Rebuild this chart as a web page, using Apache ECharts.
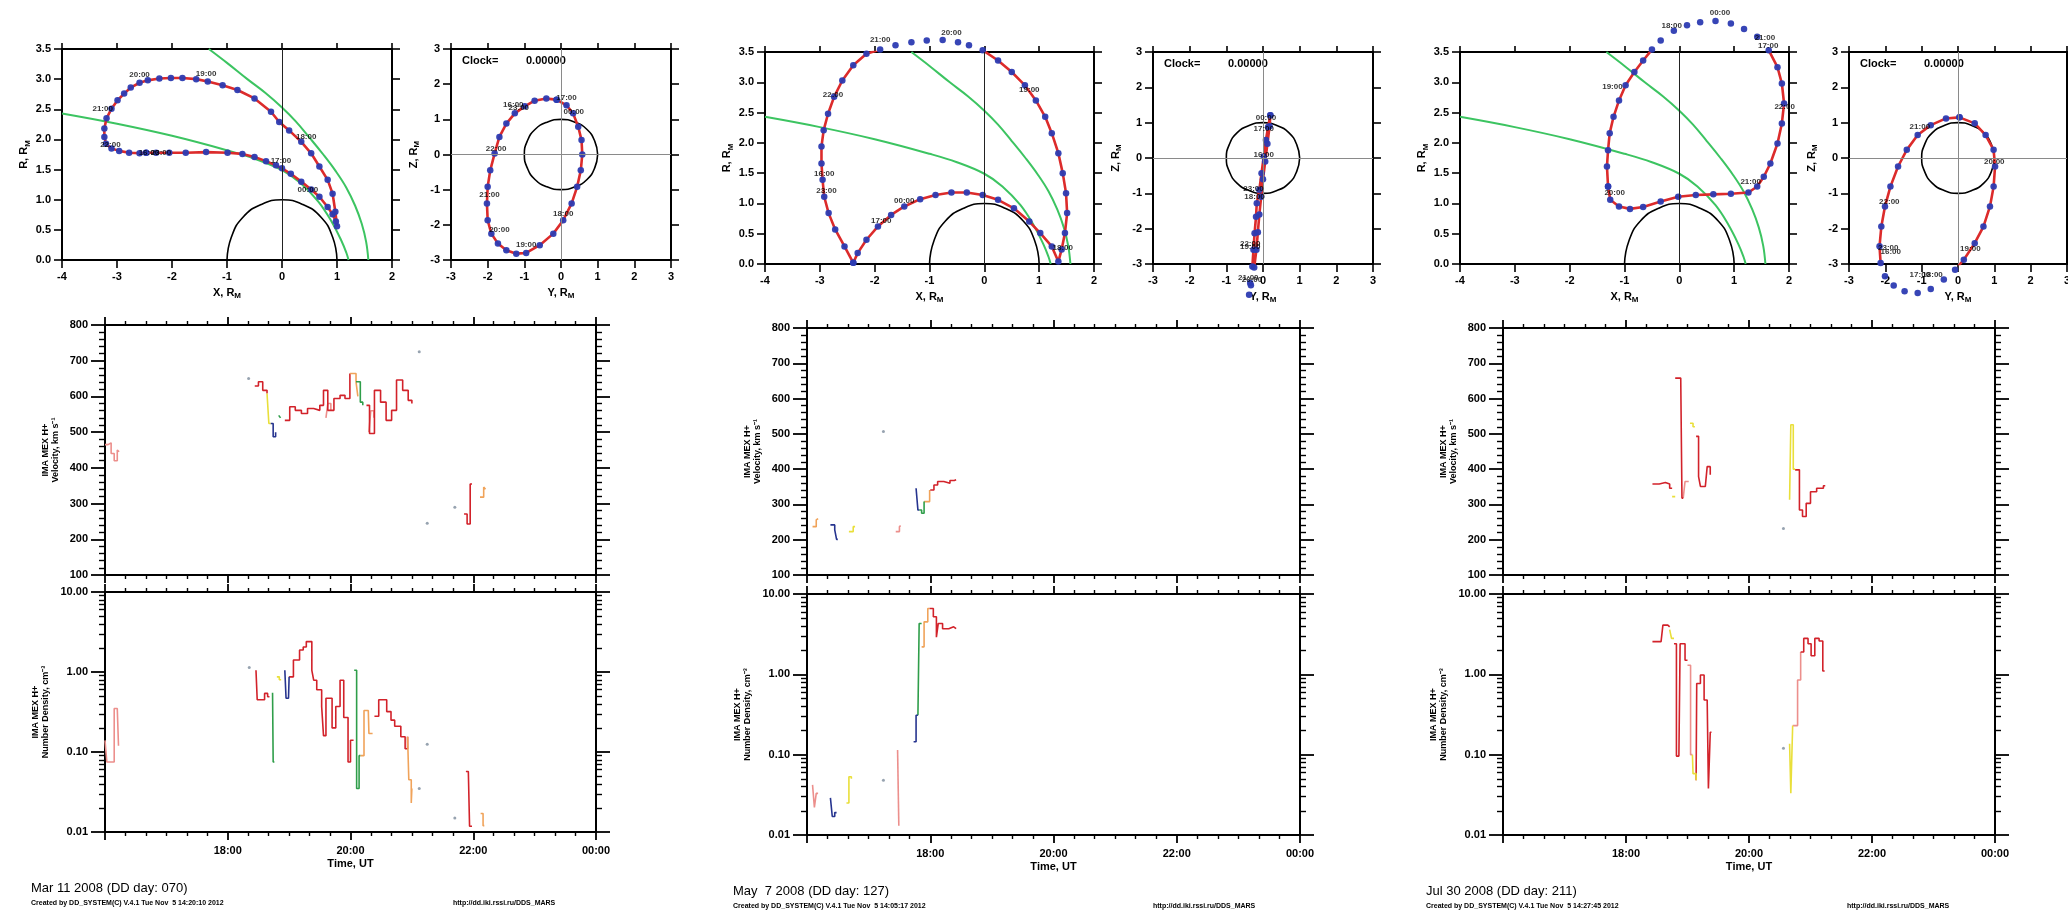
<!DOCTYPE html>
<html><head><meta charset="utf-8">
<script src="https://cdn.jsdelivr.net/npm/echarts@6/dist/echarts.min.js"></script>
<style>html,body{margin:0;padding:0;background:#fff}#c{width:2068px;height:915px}</style>
</head><body><div id="c"></div>
<script>
// ================= DATA =================
// Model boundaries (X, R in Mars radii)
const bowShock = [[-1.33,3.5],[-1.0,3.27],[-0.63,3.0],[-0.3,2.77],[0,2.53],[0.25,2.3],[0.5,2.03],[0.75,1.75],[0.98,1.47],[1.17,1.2],[1.33,0.9],[1.45,0.6],[1.53,0.3],[1.57,0]];
const mpb = [[-4,2.43],[-3,2.26],[-2,2.06],[-1,1.82],[-0.5,1.68],[0,1.49],[0.33,1.28],[0.66,0.97],[0.9,0.64],[1.08,0.32],[1.17,0.12],[1.21,0]];
const marsHalf = [[-1,0],[-0.92,0.38],[-0.71,0.71],[-0.38,0.92],[0,1],[0.38,0.92],[0.71,0.71],[0.92,0.38],[1,0]];
const marsFull = [[1,0],[0.92,0.38],[0.71,0.71],[0.38,0.92],[0,1],[-0.38,0.92],[-0.71,0.71],[-0.92,0.38],[-1,0],[-0.92,-0.38],[-0.71,-0.71],[-0.38,-0.92],[0,-1],[0.38,-0.92],[0.71,-0.71],[0.92,-0.38],[1,0]];
const timeTickLabels = ['18:00','20:00','22:00','00:00'];

// Panel 1 (Mar 11 2008)
const p1Xr = [[-2.47,1.78],[-2.29,1.78],[-2.05,1.78],[-1.75,1.78],[-1.38,1.79],[-0.99,1.78],[-0.72,1.76],[-0.50,1.71],[-0.29,1.64],[-0.11,1.57],[0.00,1.52],[0.16,1.43],[0.35,1.30],[0.53,1.17],[0.68,1.05],[0.83,0.88],[0.92,0.76],[0.98,0.64],[1.00,0.56],[0.97,0.80],[0.92,1.10],[0.83,1.33],[0.68,1.55],[0.53,1.77],[0.35,1.96],[0.13,2.15],[-0.05,2.29],[-0.20,2.46],[-0.50,2.68],[-0.81,2.82],[-1.08,2.90],[-1.35,2.96],[-1.56,3.00],[-1.81,3.02],[-2.02,3.02],[-2.23,3.01],[-2.44,2.98],[-2.59,2.94],[-2.75,2.86],[-2.87,2.76],[-2.99,2.65],[-3.10,2.51],[-3.19,2.35],[-3.23,2.18],[-3.23,2.04],[-3.20,1.93],[-3.10,1.85],[-2.96,1.81],[-2.78,1.78],[-2.59,1.77],[-2.47,1.78]];
const p1XrLabels = [[-2.59,3.07,'20:00'],[-1.38,3.09,'19:00'],[-3.26,2.51,'21:00'],[-3.12,1.91,'22:00'],[-2.42,1.77,'16:00'],[-2.2,1.77,'23:00'],[-0.02,1.65,'17:00'],[0.44,2.04,'18:00'],[0.47,1.17,'00:00']];
const p1Yz = [[-0.12,1.56],[0.15,1.40],[0.33,1.17],[0.47,0.79],[0.56,0.41],[0.58,0.00],[0.54,-0.45],[0.44,-0.92],[0.29,-1.39],[0.06,-1.87],[-0.21,-2.25],[-0.58,-2.58],[-0.95,-2.80],[-1.22,-2.82],[-1.49,-2.72],[-1.72,-2.53],[-1.90,-2.25],[-2.00,-1.87],[-2.02,-1.39],[-2.00,-0.92],[-1.93,-0.45],[-1.81,0.03],[-1.68,0.50],[-1.49,0.88],[-1.26,1.17],[-0.99,1.37],[-0.72,1.53],[-0.40,1.59],[-0.12,1.56]];
const p1YzLabels = [[0.15,1.62,'17:00'],[-1.30,1.40,'16:00'],[-1.15,1.32,'23:00'],[0.35,1.22,'00:00'],[-1.77,0.15,'22:00'],[-1.95,-1.16,'21:00'],[-1.68,-2.15,'20:00'],[-0.95,-2.58,'19:00'],[0.06,-1.68,'18:00']];

const p1VelRed = [
  [[18.44,629],[18.5,641],[18.57,617],[18.64,608]],
  [[18.93,533],[19.01,571],[19.1,561],[19.2,552],[19.3,566],[19.4,561],[19.5,575],[19.56,617],[19.63,561],[19.73,594],[19.83,603],[19.91,594],[19.99,664]],
  [[20.26,575],[20.31,496],[20.39,617],[20.49,584],[20.58,533],[20.67,561],[20.75,646],[20.85,617],[20.94,589],[21.0,580]],
  [[21.85,271],[21.9,243],[21.95,355],[21.98,355]]];
const p1VelPink = [
  [[16.0,465],[16.05,470],[16.1,440],[16.15,420],[16.2,450],[16.23,445]],
  [[19.6,540],[19.63,580],[19.68,560]],
  [[20.3,500],[20.33,560],[20.38,540]]];
const p1VelOrange = [[[19.99,664],[20.09,641],[20.12,600]],[[22.11,318],[22.17,346],[22.2,340]]];
const p1VelYellow = [[[18.64,608],[18.67,524],[18.7,524]]];
const p1VelGreen = [[[20.09,641],[20.16,584],[20.2,575]],[[18.83,547],[18.86,540]]];
const p1VelBlue = [[[18.7,524],[18.74,487],[18.78,500]]];
const p1VelDots = [[18.34,650],[21.12,725],[21.25,245],[21.7,290]];

const p1DenPink = [[[16.0,0.14],[16.03,0.075],[16.1,0.075],[16.15,0.35],[16.2,0.35],[16.22,0.12]]];
const p1DenRed = [
  [[18.46,1.05],[18.48,0.45],[18.55,0.45],[18.6,0.54],[18.65,0.49],[18.68,0.49]],
  [[19.0,0.87],[19.07,1.41],[19.17,1.88],[19.23,2.05],[19.28,2.4],[19.33,2.4],[19.37,1.05],[19.4,0.79],[19.45,0.6],[19.53,0.37],[19.56,0.16],[19.6,0.47],[19.7,0.2],[19.76,0.37],[19.83,0.79],[19.89,0.27],[19.96,0.075],[20.0,0.14],[20.05,0.14]],
  [[20.39,0.28],[20.46,0.45],[20.52,0.45],[20.59,0.32],[20.66,0.25],[20.72,0.21],[20.82,0.155],[20.89,0.11],[20.93,0.155]],
  [[21.88,0.057],[21.92,0.057],[21.94,0.0118],[21.98,0.0118]]];
const p1DenGreen = [[[18.73,0.55],[18.74,0.075],[18.76,0.075]],[[20.06,1.05],[20.1,0.035],[20.14,0.09],[20.16,0.09]]];
const p1DenYellow = [[[18.8,0.87],[18.84,0.8],[18.87,0.8]]];
const p1DenBlue = [[[18.93,1.05],[18.95,0.47],[18.99,0.47],[19.0,0.87]]];
const p1DenOrange = [[[20.16,0.09],[20.22,0.33],[20.29,0.33],[20.3,0.17],[20.36,0.17]],[[20.93,0.155],[20.95,0.045],[20.99,0.023],[21.0,0.035]],[[22.12,0.017],[22.16,0.012],[22.18,0.012]]];
const p1DenDots = [[18.35,1.14],[21.12,0.035],[21.25,0.125],[21.7,0.015]];

// Panel 2 (May 7 2008)
const p2Xr = [[-2.39,0.02],[-2.55,0.29],[-2.72,0.57],[-2.84,0.84],[-2.92,1.11],[-2.95,1.39],[-2.97,1.66],[-2.97,1.94],[-2.93,2.21],[-2.85,2.48],[-2.74,2.76],[-2.59,3.03],[-2.39,3.28],[-2.15,3.47],[-1.90,3.54],[-1.62,3.61],[-1.33,3.66],[-1.05,3.69],[-0.76,3.70],[-0.48,3.66],[-0.28,3.61],[-0.03,3.53],[0.25,3.36],[0.50,3.17],[0.74,2.95],[0.94,2.70],[1.11,2.43],[1.23,2.16],[1.35,1.83],[1.43,1.50],[1.49,1.17],[1.51,0.84],[1.47,0.51],[1.41,0.24],[1.35,0.04],[1.23,0.29],[1.02,0.51],[0.82,0.70],[0.54,0.92],[0.25,1.06],[-0.03,1.14],[-0.32,1.18],[-0.60,1.18],[-0.89,1.14],[-1.17,1.07],[-1.46,0.95],[-1.70,0.81],[-1.94,0.62],[-2.15,0.40],[-2.31,0.18],[-2.39,0.02]];
const p2XrLabels = [[-0.60,3.82,'20:00'],[-1.90,3.70,'21:00'],[-2.76,2.79,'22:00'],[-2.92,1.49,'16:00'],[-2.88,1.21,'23:00'],[-1.46,1.05,'00:00'],[-1.88,0.72,'17:00'],[0.82,2.87,'19:00'],[1.43,0.26,'18:00']];
const p2Yz = [[0.20,1.21],[0.14,0.88],[0.08,0.51],[0.02,0.04],[-0.04,-0.43],[-0.10,-0.90],[-0.17,-1.28],[-0.19,-1.66],[-0.23,-2.13],[-0.26,-2.60],[-0.29,-3.07],[-0.35,-3.54],[-0.38,-3.87],[-0.33,-3.6],[-0.24,-3.1],[-0.18,-2.6],[-0.14,-2.1],[-0.10,-1.6],[-0.05,-1.1],[0.0,-0.6],[0.06,-0.1],[0.12,0.4],[0.18,0.9],[0.20,1.21]];
const p2YzLabels = [[0.08,1.15,'00:00'],[0.02,0.84,'17:00'],[0.02,0.08,'16:00'],[-0.26,-0.86,'23:00'],[-0.23,-1.09,'18:00'],[-0.35,-2.42,'22:00'],[-0.35,-2.52,'19:00'],[-0.40,-3.40,'21:00'],[-0.30,-3.45,'20:00']];

const p2VelOrange = [[[16.09,237],[16.15,256],[16.18,260]],[[17.9,308],[17.99,341],[18.0,341]]];
const p2VelBlue = [[[16.38,242],[16.45,228],[16.48,201],[16.5,201]],[[17.77,346],[17.8,284],[17.82,284]]];
const p2VelYellow = [[[16.68,223],[16.75,237],[16.78,237]]];
const p2VelPink = [[[17.44,223],[17.5,237],[17.52,240]]];
const p2VelGreen = [[[17.82,284],[17.86,275],[17.9,308]]];
const p2VelRed = [[[18.0,341],[18.06,355],[18.12,365],[18.22,360],[18.32,368],[18.39,370],[18.42,372]]];
const p2VelDots = [[17.24,507]];

const p2DenPink = [[[16.09,0.042],[16.12,0.022],[16.15,0.033],[16.18,0.033]],[[17.47,0.114],[17.49,0.013],[17.5,0.013]]];
const p2DenBlue = [[[16.38,0.029],[16.41,0.017],[16.45,0.019],[16.48,0.019]],[[17.73,0.145],[17.77,0.31],[17.8,0.31]]];
const p2DenYellow = [[[16.64,0.025],[16.68,0.053],[16.72,0.05]]];
const p2DenGreen = [[[17.8,0.31],[17.82,4.3],[17.86,4.3]]];
const p2DenOrange = [[[17.86,2.2],[17.9,4.5],[17.96,6.6],[17.99,6.6]]];
const p2DenRed = [[[17.99,6.6],[18.05,5.2],[18.1,2.9],[18.13,4.3],[18.2,3.7],[18.3,3.9],[18.38,3.7],[18.42,3.7]]];
const p2DenDots = [[17.24,0.048]];

// Panel 3 (Jul 30 2008)
const p3Xr = [[-1.30,1.28],[-1.26,1.06],[-1.10,0.95],[-0.90,0.91],[-0.66,0.94],[-0.34,1.03],[-0.02,1.11],[0.30,1.14],[0.62,1.15],[0.94,1.16],[1.26,1.18],[1.42,1.28],[1.54,1.44],[1.66,1.66],[1.79,1.99],[1.87,2.32],[1.91,2.65],[1.87,2.98],[1.79,3.25],[1.63,3.53],[1.42,3.75],[1.18,3.88],[0.94,3.97],[0.66,4.01],[0.38,3.99],[0.14,3.94],[-0.10,3.85],[-0.34,3.69],[-0.50,3.54],[-0.66,3.36],[-0.82,3.17],[-0.98,2.95],[-1.10,2.70],[-1.20,2.43],[-1.27,2.16],[-1.30,1.88],[-1.32,1.61],[-1.30,1.28]];
const p3XrLabels = [[-1.22,2.93,'19:00'],[-0.14,3.93,'18:00'],[0.74,4.14,'00:00'],[1.56,3.74,'21:00'],[1.62,3.60,'17:00'],[1.92,2.59,'22:00'],[1.30,1.36,'21:00'],[-1.18,1.17,'20:00']];
const p3Yz = [[0.04,1.15],[0.46,0.98],[0.76,0.65],[0.98,0.23],[1.02,-0.24],[0.98,-0.81],[0.88,-1.37],[0.70,-1.94],[0.46,-2.41],[0.16,-2.88],[-0.08,-3.16],[-0.39,-3.44],[-0.75,-3.71],[-1.11,-3.82],[-1.47,-3.77],[-1.77,-3.61],[-2.01,-3.35],[-2.13,-2.97],[-2.16,-2.50],[-2.11,-1.94],[-2.01,-1.37],[-1.86,-0.81],[-1.65,-0.24],[-1.41,0.23],[-1.11,0.65],[-0.75,0.93],[-0.33,1.12],[0.04,1.15]];
const p3YzLabels = [[-1.05,0.88,'21:00'],[1.00,-0.12,'20:00'],[-1.89,-1.23,'22:00'],[0.34,-2.58,'19:00'],[-1.92,-2.55,'23:00'],[-1.85,-2.65,'16:00'],[-1.05,-3.30,'17:00'],[-0.70,-3.30,'18:00']];

const p3VelRed = [
  [[18.43,358],[18.54,362],[18.64,358],[18.71,346],[18.75,346]],
  [[18.8,658],[18.89,658],[18.91,318],[18.93,318]],
  [[19.14,493],[19.18,379],[19.21,351],[19.29,346],[19.32,407],[19.37,384],[19.38,384]],
  [[20.75,398],[20.82,284],[20.87,266],[20.93,303],[21.0,336],[21.1,346],[21.21,353],[21.24,355]]];
const p3VelYellow = [[[18.75,322],[18.8,322]],[[19.04,530],[19.09,520],[19.12,520]],[[20.66,313],[20.68,526],[20.72,400],[20.75,398]]];
const p3VelPink = [[[18.93,318],[18.96,365],[19.02,365]]];
const p3VelDots = [[20.56,232]];

const p3DenRed = [
  [[18.43,2.55],[18.57,2.67],[18.6,4.1],[18.68,3.9],[18.71,3.9]],
  [[18.78,2.4],[18.82,0.096],[18.86,0.096],[18.88,2.4],[18.96,1.5],[19.0,1.5]],
  [[19.14,0.048],[19.15,0.77],[19.21,0.98],[19.27,0.48],[19.32,0.48],[19.34,0.038],[19.37,0.19],[19.39,0.19]],
  [[20.84,1.9],[20.89,2.8],[20.96,2.4],[21.01,1.7],[21.07,2.8],[21.14,2.6],[21.2,1.1],[21.23,1.1]]];
const p3DenYellow = [[[18.71,3.6],[18.74,2.8],[18.78,2.8]],[[19.08,0.1],[19.09,0.058],[19.14,0.048]],[[20.66,0.137],[20.68,0.033],[20.71,0.23]]];
const p3DenPink = [[[19.0,1.3],[19.05,0.1],[19.08,0.1]],[[20.71,0.23],[20.79,0.85],[20.84,1.9]]];
const p3DenDots = [[20.56,0.12]];

// ================= BUILD =================
const FONT = '"Liberation Sans", Arial, sans-serif';
const BLACK = '#000';
const C = {red:'#d2222a', pink:'#ec8f8c', orange:'#f0a35a', yellow:'#e9df3a', green:'#2f9e4a', blue:'#26348f', dot:'#7d8c9c', orbitRed:'#dc2b2b', orbitBlue:'#2c3bb2', bound:'#3cc461'};
const grids = [], xAxes = [], yAxes = [], series = [], graphic = [];

function axisBase(extra) {
  return Object.assign({
    type: 'value',
    axisLine: {show: true, onZero: false, lineStyle: {color: BLACK, width: 2}},
    axisTick: {show: true, inside: false, length: 8, lineStyle: {color: BLACK, width: 1.6}},
    minorTick: {show: false},
    splitLine: {show: false}, minorSplitLine: {show: false},
    axisLabel: {show: false}
  }, extra);
}
const tickLabel = (extra) => Object.assign({show: true, color: BLACK, fontSize: 11, fontWeight: 'bold', fontFamily: FONT}, extra);
const NAME_STYLE = {color: BLACK, fontSize: 11, fontWeight: 'bold', fontFamily: FONT,
  rich: {s: {fontSize: 8, fontWeight: 'bold', fontFamily: FONT, color: BLACK, padding: [7, 0, 0, 0]}}};
const SMALL_NAME = {color: BLACK, fontSize: 9, fontWeight: 'bold', fontFamily: FONT, lineHeight: 10};
function addGrid(b) { return grids.push({left: b[0], top: b[1], width: b[2], height: b[3], containLabel: false, outerBoundsMode: 'none'}) - 1; }
const hhmm = (v) => { const h = Math.round(v) % 24; return (h < 10 ? '0' : '') + h + ':00'; };

function orbitPanel(box, isXR, orbit, labels) {
  const g = addGrid(box);
  const xr = isXR ? [-4, 2] : [-3, 3];
  const yr = isXR ? [0, 3.5, 0.5] : [-3, 3, 1];
  const xi = xAxes.push(axisBase({gridIndex: g, position: 'bottom', min: xr[0], max: xr[1], interval: 1,
    axisLabel: tickLabel({margin: 11}), name: (isXR ? 'X' : 'Y') + ', R{s|M}', nameLocation: 'middle', nameGap: 25, nameTextStyle: NAME_STYLE})) - 1;
  xAxes.push(axisBase({gridIndex: g, position: 'top', min: xr[0], max: xr[1], interval: 1, axisTick: {show: true, length: 6, lineStyle: {color: BLACK, width: 1.6}}}));
  const yi = yAxes.push(axisBase({gridIndex: g, position: 'left', min: yr[0], max: yr[1], interval: yr[2],
    axisLabel: tickLabel({margin: 11, formatter: (v) => isXR ? v.toFixed(1) : String(v)}),
    name: (isXR ? 'R' : 'Z') + ', R{s|M}', nameLocation: 'middle', nameGap: 30, nameRotate: 90, nameTextStyle: NAME_STYLE})) - 1;
  yAxes.push(axisBase({gridIndex: g, position: 'right', min: yr[0], max: yr[1], interval: yr[2]}));
  const ax = {xAxisIndex: xi, yAxisIndex: yi, silent: true, animation: false};
  series.push(Object.assign({type: 'line', data: isXR ? marsHalf : marsFull, smooth: true, showSymbol: false, symbol: 'none',
    lineStyle: {color: BLACK, width: 1.6}, z: 2,
    markLine: {silent: true, symbol: 'none', label: {show: false}, lineStyle: {color: isXR ? '#222' : '#8a8a8a', width: 1, type: 'solid'},
      data: isXR ? [{xAxis: 0}] : [{xAxis: 0}, {yAxis: 0}]}}, ax));
  if (isXR) {
    [bowShock, mpb].forEach(d => series.push(Object.assign({type: 'line', data: d, smooth: 0.4, showSymbol: false, symbol: 'none',
      lineStyle: {color: C.bound, width: 2}, z: 2}, ax)));
  }
  series.push(Object.assign({type: 'line', data: orbit, showSymbol: false, symbol: 'none', clip: true,
    lineStyle: {color: C.orbitRed, width: 2.6}, z: 3}, ax));
  series.push(Object.assign({type: 'scatter', data: orbit, symbol: 'circle', symbolSize: 6.5, clip: false,
    itemStyle: {color: C.orbitBlue, opacity: 0.95}, z: 4}, ax));
  series.push(Object.assign({type: 'scatter', data: labels.map(d => ({value: [d[0], d[1]], name: d[2]})), symbolSize: 0.1, clip: false,
    itemStyle: {color: 'rgba(0,0,0,0)'}, z: 6,
    label: {show: true, position: 'inside', formatter: '{b}', color: BLACK, fontSize: 8, fontWeight: 'bold', fontFamily: FONT}}, ax));
  if (!isXR) {
    graphic.push({type: 'text', left: box[0] + 11, top: box[1] + 6, style: {text: 'Clock=', font: 'bold 11px "Liberation Sans"', fill: BLACK}});
    graphic.push({type: 'text', left: box[0] + 75, top: box[1] + 6, style: {text: '0.00000', font: 'bold 11px "Liberation Sans"', fill: BLACK}});
  }
}

const minorLogTicks = [];
[-2, -1, 0].forEach(d => [2, 3, 4, 5, 6, 7, 8, 9].forEach(k => minorLogTicks.push(d + Math.log10(k))));

function timePanel(box, isDen, groups, dots, names) {
  const g = addGrid(box);
  const xc = {gridIndex: g, min: 16, max: 24, interval: 2,
    axisTick: {show: true, length: 8, lineStyle: {color: BLACK, width: 1.8}},
    minorTick: {show: true, splitNumber: 6, length: 4, lineStyle: {color: BLACK, width: 1.4}}};
  const xi = xAxes.push(axisBase(Object.assign({}, xc, {position: 'bottom',
    axisLabel: isDen ? tickLabel({margin: 13, formatter: (v) => v === 16 ? '' : hhmm(v)}) : {show: false},
    name: isDen ? 'Time, UT' : '', nameLocation: 'middle', nameGap: 26, nameTextStyle: NAME_STYLE}))) - 1;
  xAxes.push(axisBase(Object.assign({}, xc, {position: 'top'})));
  const major = {show: true, length: 14, lineStyle: {color: BLACK, width: 1.8}};
  let yi;
  if (!isDen) {
    const yc = {gridIndex: g, min: 100, max: 800, interval: 100, axisTick: major,
      minorTick: {show: true, splitNumber: 5, length: 6, lineStyle: {color: BLACK, width: 1.4}}};
    yi = yAxes.push(axisBase(Object.assign({}, yc, {position: 'left', axisLabel: tickLabel({margin: 17}),
      name: 'IMA MEX H+\nVelocity, km s\u207B\u00B9', nameLocation: 'middle', nameGap: 44, nameRotate: 90, nameTextStyle: SMALL_NAME}))) - 1;
    yAxes.push(axisBase(Object.assign({}, yc, {position: 'right'})));
  } else {
    const yc = {type: 'log', logBase: 10, gridIndex: g, min: 0.01, max: 10, axisTick: major};
    yi = yAxes.push(axisBase(Object.assign({}, yc, {position: 'left', axisLabel: tickLabel({margin: 17, formatter: (v) => Number(v).toFixed(2)}),
      name: 'IMA MEX H+\nNumber Density, cm\u207B\u00B3', nameLocation: 'middle', nameGap: 54, nameRotate: 90, nameTextStyle: SMALL_NAME}))) - 1;
    yAxes.push(axisBase(Object.assign({}, yc, {position: 'right'})));
    const g2 = addGrid(box);
    xAxes.push(axisBase({gridIndex: g2, min: 16, max: 24, show: false}));
    const mc = {gridIndex: g2, min: -2, max: 1, axisLine: {show: false},
      axisTick: {show: true, length: 6, customValues: minorLogTicks, lineStyle: {color: BLACK, width: 1.4}}};
    yAxes.push(axisBase(Object.assign({}, mc, {position: 'left'})));
    yAxes.push(axisBase(Object.assign({}, mc, {position: 'right'})));
  }
  const ax = {xAxisIndex: xi, yAxisIndex: yi, silent: true, animation: false};
  groups.forEach(([segs, color]) => segs.forEach(seg => series.push(Object.assign({type: 'line', data: seg, step: 'end',
    showSymbol: false, symbol: 'none', lineStyle: {color: color, width: 1.6}, z: 3}, ax))));
  series.push(Object.assign({type: 'scatter', data: dots, symbolSize: 3, itemStyle: {color: C.dot}, z: 3}, ax));
  if (isDen) {
    graphic.push({type: 'text', left: names.x, top: box[1] + box[3] + 50, style: {text: names.date, font: '13px "Liberation Sans"', fill: BLACK}});
    graphic.push({type: 'text', left: names.x, top: box[1] + box[3] + 68, style: {text: names.created, font: 'bold 7px "Liberation Sans"', fill: BLACK}});
    graphic.push({type: 'text', left: names.url, top: box[1] + box[3] + 68, style: {text: 'http://dd.iki.rssi.ru/DDS_MARS', font: 'bold 7px "Liberation Sans"', fill: BLACK}});
  }
}

// Panel 1
orbitPanel([62, 49, 330, 211], true, p1Xr, p1XrLabels);
orbitPanel([451, 49, 220, 211], false, p1Yz, p1YzLabels);
timePanel([105, 325, 491, 250], false, [[p1VelPink, C.pink], [p1VelRed, C.red], [p1VelOrange, C.orange], [p1VelYellow, C.yellow], [p1VelGreen, C.green], [p1VelBlue, C.blue]], p1VelDots);
timePanel([105, 592, 491, 240], true, [[p1DenPink, C.pink], [p1DenRed, C.red], [p1DenOrange, C.orange], [p1DenYellow, C.yellow], [p1DenGreen, C.green], [p1DenBlue, C.blue]], p1DenDots,
  {x: 31, url: 453, date: 'Mar 11 2008 (DD day: 070)', created: 'Created by DD_SYSTEM(C) V.4.1 Tue Nov  5 14:20:10 2012'});
// Panel 2
orbitPanel([765, 52, 329, 212], true, p2Xr, p2XrLabels);
orbitPanel([1153, 52, 220, 212], false, p2Yz, p2YzLabels);
timePanel([807, 328, 493, 247], false, [[p2VelPink, C.pink], [p2VelOrange, C.orange], [p2VelYellow, C.yellow], [p2VelGreen, C.green], [p2VelBlue, C.blue], [p2VelRed, C.red]], p2VelDots);
timePanel([807, 594, 493, 241], true, [[p2DenPink, C.pink], [p2DenOrange, C.orange], [p2DenYellow, C.yellow], [p2DenGreen, C.green], [p2DenBlue, C.blue], [p2DenRed, C.red]], p2DenDots,
  {x: 733, url: 1153, date: 'May  7 2008 (DD day: 127)', created: 'Created by DD_SYSTEM(C) V.4.1 Tue Nov  5 14:05:17 2012'});
// Panel 3
orbitPanel([1460, 52, 329, 212], true, p3Xr, p3XrLabels);
orbitPanel([1849, 52, 218, 212], false, p3Yz, p3YzLabels);
timePanel([1503, 328, 492, 247], false, [[p3VelPink, C.pink], [p3VelRed, C.red], [p3VelYellow, C.yellow]], p3VelDots);
timePanel([1503, 594, 492, 241], true, [[p3DenPink, C.pink], [p3DenRed, C.red], [p3DenYellow, C.yellow]], p3DenDots,
  {x: 1426, url: 1847, date: 'Jul 30 2008 (DD day: 211)', created: 'Created by DD_SYSTEM(C) V.4.1 Tue Nov  5 14:27:45 2012'});

const chart = echarts.init(document.getElementById('c'), null, {renderer: 'canvas'});
chart.setOption({animation: false, backgroundColor: '#fff', grid: grids, xAxis: xAxes, yAxis: yAxes, series: series, graphic: graphic});
</script></body></html>
